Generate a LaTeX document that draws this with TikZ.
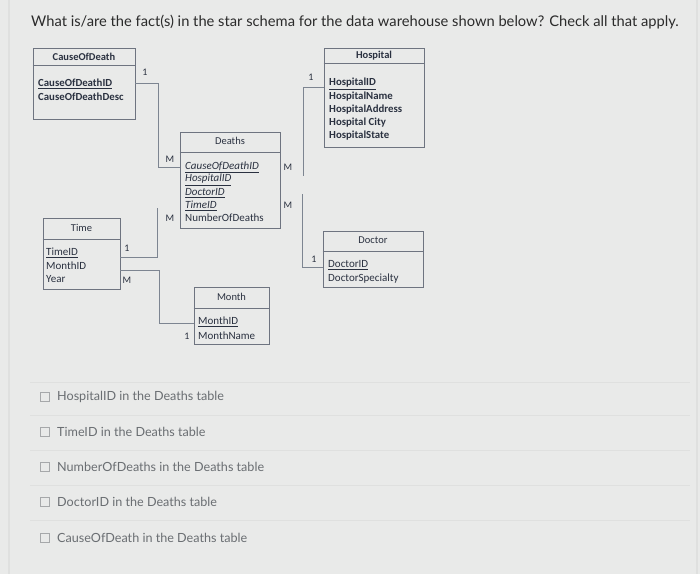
\documentclass[tikz,border=0pt]{standalone}
\usepackage{fontspec}
\setmainfont{Lato}
\newfontfamily\schemafont{Carlito}
\usepackage{xcolor}
\definecolor{pagebg}{HTML}{E9EAE9}
\definecolor{ink}{HTML}{2A3140}
\definecolor{qink}{HTML}{2B2B2B}
\definecolor{optink}{HTML}{6A6E72}
\definecolor{boxline}{HTML}{6E7480}
\definecolor{linkgray}{HTML}{7D8591}
\definecolor{rule}{HTML}{DFE0DF}
\usetikzlibrary{calc,positioning}

\tikzset{
  tbl/.style={draw=boxline, line width=0.9pt, inner sep=0pt},
  hdrline/.style={draw=boxline, line width=0.9pt},
  hdr/.style={inner sep=0pt, font=\schemafont\fontsize{10.5}{12}\selectfont, text=ink},
  row/.style={anchor=west, inner sep=0pt, font=\schemafont\fontsize{11}{12}\selectfont, text=ink},
  boldrow/.style={row, font=\schemafont\bfseries\fontsize{10.8}{12}\selectfont},
  card/.style={inner sep=0pt, font=\schemafont\fontsize{10}{11}\selectfont, text=ink},
  link/.style={draw=linkgray, line width=0.9pt},
  tickbox/.style={draw=optink!60, line width=0.7pt, minimum size=9pt, inner sep=0pt},
  opt/.style={anchor=west, inner sep=0pt, font=\fontsize{12.6}{14}\selectfont, text=optink},
}

\begin{document}
\begin{tikzpicture}[x=1pt, y=-1pt]

  % ---------- page
  \fill[pagebg] (0,0) rectangle (700,574);
  \useasboundingbox (0,0) rectangle (700,574);
  \draw[rule, line width=1.2pt] (9,0) -- (9,574);
  \draw[rule, line width=1.2pt] (697,0) -- (697,574);

  \node[anchor=west, inner sep=0pt, text=qink, font=\fontsize{14.7}{16}\selectfont] (question) at (31,22)
    {What is/are the fact(s) in the star schema for the data warehouse shown below? Check all that apply.};

  % ---------- dimension: CauseOfDeath
  \node[tbl, minimum width=102pt, minimum height=71pt] (cod) at (84,83.5) {};
  \draw[hdrline] (cod.west |- 0,65) -- (cod.east |- 0,65);
  \node[hdr, font=\schemafont\bfseries\fontsize{10.5}{12}\selectfont] (codtitle) at (84,56.5) {CauseOfDeath};
  \node[boldrow] (codid) at (38,84) {\underline{CauseOfDeathID}};
  \node[boldrow] (coddesc) at (38,97) {CauseOfDeathDesc};

  % ---------- fact: Deaths
  \node[tbl, minimum width=100pt, minimum height=96pt] (deaths) at (230,180) {};
  \draw[hdrline] (deaths.west |- 0,152) -- (deaths.east |- 0,152);
  \node[hdr] (deathstitle) at (230,141) {Deaths};
  \node[row] (dcod) at (185,167) {\itshape\underline{CauseOfDeathID}};
  \node[row] (dhosp) at (185,180) {\itshape\underline{HospitalID}};
  \node[row] (ddoc) at (185,193) {\itshape\underline{DoctorID}};
  \node[row] (dtime) at (185,205.5) {\itshape\underline{TimeID}};
  \node[row] (dnum) at (185,218) {NumberOfDeaths};

  % ---------- dimension: Hospital
  \node[tbl, minimum width=100pt, minimum height=99pt] (hosp) at (374,97.5) {};
  \draw[hdrline] (hosp.west |- 0,63) -- (hosp.east |- 0,63);
  \node[hdr, font=\schemafont\bfseries\fontsize{10.5}{12}\selectfont] (hosptitle) at (374,56) {Hospital};
  \node[boldrow] (hid) at (329,84) {\underline{HospitalID}};
  \node[boldrow] (hname) at (329,97) {HospitalName};
  \node[boldrow] (haddr) at (329,110) {HospitalAddress};
  \node[boldrow] (hcity) at (329,123) {Hospital City};
  \node[boldrow] (hstate) at (329,136) {HospitalState};

  % ---------- dimension: Doctor
  \node[tbl, minimum width=100pt, minimum height=56pt] (doc) at (373,259) {};
  \draw[hdrline] (doc.west |- 0,251) -- (doc.east |- 0,251);
  \node[hdr] (doctitle) at (373,240) {Doctor};
  \node[row] (docid) at (328,265) {\underline{DoctorID}};
  \node[row] (docspec) at (328,279) {DoctorSpecialty};

  % ---------- dimension: Time
  \node[tbl, minimum width=77pt, minimum height=71pt] (time) at (81.5,253.5) {};
  \draw[hdrline] (time.west |- 0,239) -- (time.east |- 0,239);
  \node[hdr] (timetitle) at (81.5,228) {Time};
  \node[row] (tid) at (46,253) {\underline{TimeID}};
  \node[row] (tmonth) at (46,266) {MonthID};
  \node[row] (tyear) at (46,279) {Year};

  % ---------- dimension: Month
  \node[tbl, minimum width=75pt, minimum height=57pt] (month) at (231.5,315.5) {};
  \draw[hdrline] (month.west |- 0,308) -- (month.east |- 0,308);
  \node[hdr] (monthtitle) at (231.5,297) {Month};
  \node[row] (mid) at (198,322) {\underline{MonthID}};
  \node[row] (mname) at (198,336) {MonthName};

  % ---------- relationships
  \coordinate (hospend) at (303,176);
  \coordinate (docstart) at (302,194);
  \coordinate (timeend) at (157,208);

  \draw[link] (cod.east |- 0,83) -- (158,83) -- (158,167) -- (deaths.west |- 0,167);
  \draw[link] (hosp.west |- 0,87) -- (hospend |- 0,87) -- (hospend);
  \draw[link] (docstart) -- (docstart |- 0,267) -- (doc.west |- 0,267);
  \draw[link] (time.east |- 0,257) -- (timeend |- 0,257) -- (timeend);
  \draw[link] (time.east |- 0,270) -- (159,270) -- (159,323) -- (month.west |- 0,323);

  % cardinalities
  \node[card] (c1) at (145,72) {1};
  \node[card] (c2) at (170,159) {M};
  \node[card] (c3) at (311,77) {1};
  \node[card] (c4) at (288,167) {M};
  \node[card] (c5) at (288,205) {M};
  \node[card] (c6) at (314,259) {1};
  \node[card] (c7) at (127,248) {1};
  \node[card] (c8) at (170,218) {M};
  \node[card] (c9) at (127,280) {M};
  \node[card] (c10) at (187,336) {1};

  % ---------- answer options
  \foreach \yy in {382,415,450,485,520}
    \draw[rule, line width=0.5pt] (30,\yy) -- (690,\yy);

  \node[tickbox] (box1) at (44.5,397) {};
  \node[opt] (opt1) at (57,397) {HospitalID in the Deaths table};
  \node[tickbox] (box2) at (44.5,432) {};
  \node[opt] (opt2) at (57,432) {TimeID in the Deaths table};
  \node[tickbox] (box3) at (44.5,467) {};
  \node[opt] (opt3) at (57,467) {NumberOfDeaths in the Deaths table};
  \node[tickbox] (box4) at (44.5,502) {};
  \node[opt] (opt4) at (57,502) {DoctorID in the Deaths table};
  \node[tickbox] (box5) at (44.5,538) {};
  \node[opt] (opt5) at (57,538) {CauseOfDeath in the Deaths table};

\end{tikzpicture}
\end{document}
